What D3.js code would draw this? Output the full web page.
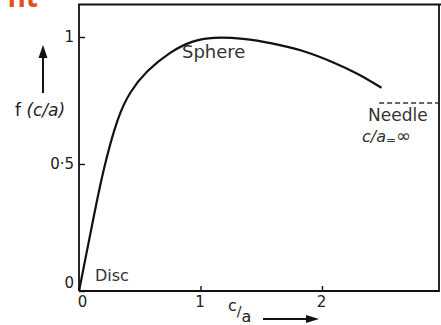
<!DOCTYPE html>
<html><head><meta charset="utf-8">
<script src="https://cdn.jsdelivr.net/npm/d3@7"></script>
<style>
html,body{margin:0;padding:0;background:#fff;}
svg{display:block;font-family:"DejaVu Sans",sans-serif;}
</style></head>
<body>
<script>
// data
const caValues = [0, 0.05, 0.12, 0.2, 0.32, 0.42, 0.55, 0.76, 0.93, 1.1, 1.35, 1.6, 1.83, 2.1, 2.3, 2.49];
const fValues  = [0, 0.12, 0.29, 0.48, 0.69, 0.785, 0.865, 0.945, 0.985, 1.0, 0.995, 0.975, 0.95, 0.90, 0.855, 0.80];
const needleValue = 0.74;
const needleStart = 2.47;
const xTicks = [0, 1, 2];
const xTickLabels = ["0", "1", "2"];
const yTicks = [0, 0.5, 1];
const yTickLabels = ["0", "0·5", "1"];

const W = 441, H = 325;
const svg = d3.select("body").append("svg").attr("width", W).attr("height", H);

const x = d3.scaleLinear().domain([0, 2.963]).range([79, 439]);
const y = d3.scaleLinear().domain([0, 1]).range([291, 37]);
const yTop = y.invert(4.5);

// orange clipped heading (cut off at the top in the reference)
svg.append("text").attr("x", 38).attr("y", 7).attr("text-anchor", "end")
  .attr("font-size", 28).attr("font-weight", "bold").attr("fill", "#e0521c")
  .attr("font-family", "Open Sans, DejaVu Sans, sans-serif").text("nt");

// frame
svg.append("path")
  .attr("d", `M${x(0)},${y(0)} V${y(yTop)} H${W} M${x(x.domain()[1])},${y(yTop)} V${y(0)} H${x(0)}`)
  .attr("fill", "none").attr("stroke", "#111").attr("stroke-width", 1.8);

// axes
const xAxis = d3.axisBottom(x).tickValues(xTicks).tickFormat((d, i) => xTickLabels[i])
  .tickSizeInner(-5).tickSizeOuter(0).tickPadding(5);
const gx = svg.append("g").attr("transform", `translate(0,${y(0)})`).call(xAxis);
gx.select(".domain").remove();
gx.selectAll(".tick line").attr("stroke", "#111").attr("stroke-width", 1.4);
gx.selectAll(".tick text").attr("font-size", 15).attr("fill", "#222")
  .attr("font-family", "DejaVu Sans, sans-serif").attr("dx", (d) => d === 0 ? 3 : -1);

const yAxis = d3.axisLeft(y).tickValues(yTicks).tickFormat((d, i) => yTickLabels[i])
  .tickSizeInner(-6).tickSizeOuter(0).tickPadding(5);
const gy = svg.append("g").attr("transform", `translate(${x(0)},0)`).call(yAxis);
gy.select(".domain").remove();
gy.selectAll(".tick line").attr("stroke", "#111").attr("stroke-width", 1.4);
gy.selectAll(".tick text").attr("font-size", 15).attr("fill", "#222")
  .attr("font-family", "DejaVu Sans, sans-serif")
  .attr("transform", (d) => d === 0 ? "translate(0,-8)" : null);

// curve
const pts = caValues.map((c, i) => [c, fValues[i]]);
svg.append("path").datum(pts)
  .attr("d", d3.line().x(d => x(d[0])).y(d => y(d[1])).curve(d3.curveBasis))
  .attr("fill", "none").attr("stroke", "#111").attr("stroke-width", 2.2);

// needle asymptote
svg.append("line").attr("x1", x(needleStart)).attr("x2", x(x.domain()[1]))
  .attr("y1", y(needleValue)).attr("y2", y(needleValue))
  .attr("stroke", "#333").attr("stroke-width", 1.5).attr("stroke-dasharray", "5,3");

// labels
svg.append("text").attr("x", 182).attr("y", 58).attr("font-size", 18).attr("fill", "#333").text("Sphere");
svg.append("text").attr("x", 368).attr("y", 121).attr("font-size", 17).attr("fill", "#333").text("Needle");
const inf = svg.append("text").attr("x", 362).attr("y", 142).attr("font-size", 16).attr("fill", "#333");
inf.append("tspan").attr("font-style", "italic").text("c/a");
inf.append("tspan").attr("font-size", 12).attr("dy", 2).text("=");
inf.append("tspan").attr("font-size", 18).attr("dy", -2).text("∞");
svg.append("text").attr("x", 95).attr("y", 281).attr("font-size", 16).attr("fill", "#333").text("Disc");

// y label + arrow
const yl = svg.append("text").attr("x", 15).attr("y", 116).attr("font-size", 17).attr("fill", "#222");
yl.append("tspan").text("f ");
yl.append("tspan").attr("font-style", "italic").text("(c/a)");
svg.append("line").attr("x1", 43).attr("x2", 43).attr("y1", 93).attr("y2", 56)
  .attr("stroke", "#111").attr("stroke-width", 2);
svg.append("path").attr("d", "M43,45 L38.5,58 L47.5,58 Z").attr("fill", "#111");

// x label + arrow
const xl = svg.append("text").attr("x", 228).attr("y", 311).attr("font-size", 16).attr("fill", "#222");
xl.append("tspan").text("c");
xl.append("tspan").attr("dy", 5).attr("font-size", 14).text("/");
xl.append("tspan").attr("dy", 6).text("a");
svg.append("line").attr("x1", 263).attr("x2", 308).attr("y1", 319).attr("y2", 319)
  .attr("stroke", "#111").attr("stroke-width", 2);
svg.append("path").attr("d", "M319,319 L306,315 L306,323 Z").attr("fill", "#111");
</script>
</body></html>
